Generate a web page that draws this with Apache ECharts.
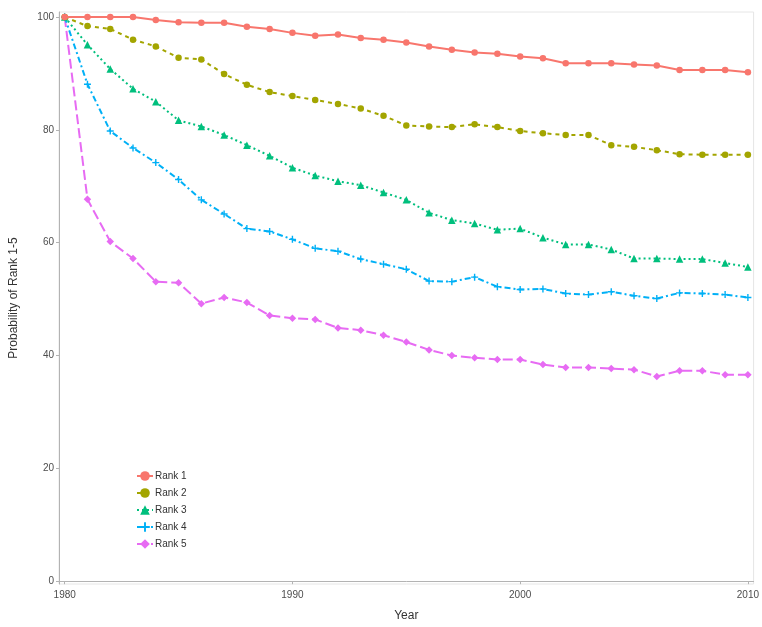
<!DOCTYPE html>
<html><head><meta charset="utf-8">
<script src="https://cdn.jsdelivr.net/npm/echarts@6/dist/echarts.min.js"></script>
<style>html,body{margin:0;padding:0;background:#fff}#c{width:762px;height:627px}</style>
</head><body><div id="c"></div>
<script>
const years = [];
for (let y = 1980; y <= 2010; y++) years.push(y);
const seriesNames = ['Rank 1','Rank 2','Rank 3','Rank 4','Rank 5'];
const rank1 = [100,100,100,100,99.5,99.1,99.0,99.0,98.3,97.9,97.2,96.7,96.9,96.3,96.0,95.5,94.8,94.2,93.7,93.5,93.0,92.7,91.8,91.8,91.8,91.6,91.4,90.6,90.6,90.6,90.2];
const rank2 = [100,98.4,97.9,96.0,94.8,92.8,92.5,89.9,88.0,86.7,86.0,85.3,84.6,83.8,82.5,80.8,80.6,80.5,81.0,80.5,79.8,79.4,79.1,79.1,77.3,77.0,76.4,75.7,75.6,75.6,75.6];
const rank3 = [100,95.1,90.8,87.3,85.0,81.7,80.6,79.1,77.3,75.4,73.3,71.9,70.9,70.2,68.9,67.6,65.3,64.0,63.4,62.3,62.5,60.9,59.7,59.7,58.8,57.2,57.2,57.1,57.1,56.4,55.7];
const rank4 = [100,88.1,79.8,76.8,74.2,71.2,67.6,65.1,62.5,62.0,60.6,59.0,58.5,57.1,56.2,55.3,53.2,53.1,53.9,52.2,51.7,51.8,51.0,50.8,51.3,50.6,50.1,51.1,51.0,50.8,50.3];
const rank5 = [100,67.7,60.2,57.2,53.1,52.9,49.2,50.3,49.4,47.1,46.6,46.4,44.9,44.5,43.6,42.4,41.0,40.0,39.6,39.3,39.3,38.4,37.9,37.9,37.7,37.5,36.3,37.3,37.3,36.6,36.6];
const xTicks = [1980,1990,2000,2010];
const yTicks = [0,20,40,60,80,100];

const colors = ['#F8766D','#A3A500','#00BF7D','#00B0F6','#E76BF3'];
const plusPath = 'path://M4,0L6,0L6,4L10,4L10,6L6,6L6,10L4,10L4,6L0,6L0,4L4,4Z';
const symbols = ['circle','circle','triangle',plusPath,'diamond'];
const sizes = [6.5,6.5,7.5,7,7.5];
const dashes = ['solid',[4,4],[2,3],[6,3,2,3],[10,4]];
const data = [rank1,rank2,rank3,rank4,rank5];

const chart = echarts.init(document.getElementById('c'));
chart.setOption({
  animation:false,
  backgroundColor:'#fff',
  color: colors,
  grid:{left:57,right:5,top:12,bottom:34,show:true,borderColor:'#e6e6e6',borderWidth:1},
  legend:{
    orient:'vertical', left:131, top:465, itemGap:5, itemWidth:16, itemHeight:12,
    textStyle:{fontSize:10,color:'#333',fontFamily:'Liberation Sans',lineHeight:12,padding:[0,0,0,-3]},
    data: seriesNames
  },
  xAxis:{
    type:'value', min:1979.75, max:2010.25,
    name:'Year', nameLocation:'middle', nameGap:26,
    nameTextStyle:{fontSize:12,color:'#333',fontFamily:'Liberation Sans'},
    axisLine:{show:true,lineStyle:{color:'#b3b3b3'}},
    axisTick:{show:true,length:3,customValues:xTicks,lineStyle:{color:'#b3b3b3'}},
    axisLabel:{customValues:xTicks,formatter:v=>String(v),fontSize:10,color:'#4d4d4d',margin:6,fontFamily:'Liberation Sans'},
    splitLine:{show:false}
  },
  yAxis:{
    type:'value', min:-0.5, max:100.9,
    name:'Probability of Rank 1-5', nameLocation:'middle', nameGap:39,
    nameTextStyle:{fontSize:12,color:'#333',fontFamily:'Liberation Sans'},
    axisLine:{show:true,lineStyle:{color:'#b3b3b3'}},
    axisTick:{show:true,length:3,customValues:yTicks,lineStyle:{color:'#b3b3b3'}},
    axisLabel:{customValues:yTicks,formatter:v=>String(v),fontSize:10,color:'#4d4d4d',margin:5,fontFamily:'Liberation Sans'},
    splitLine:{show:false}
  },
  series: seriesNames.map((n,i)=>({
    name:n, type:'line',
    data: years.map((y,j)=>[y,data[i][j]]),
    symbol:symbols[i], symbolSize:sizes[i], showSymbol:true,
    lineStyle:{width:2,type:dashes[i],color:colors[i]},
    itemStyle:{color:colors[i],borderWidth:0},
    clip:false, z: 10-i
  }))
});
</script></body></html>
